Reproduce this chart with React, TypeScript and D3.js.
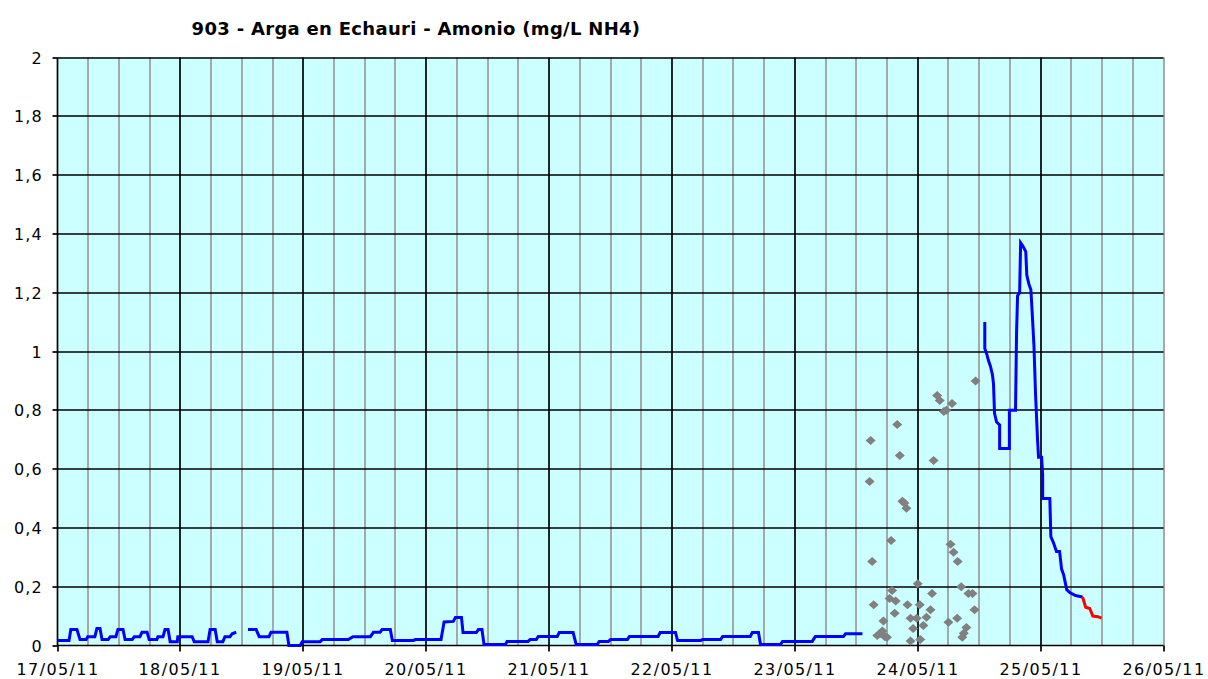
import React from "react";
import * as d3 from "d3";

const titleText = "903 - Arga en Echauri - Amonio (mg/L NH4)";
const dayLabels = ["17/05/11","18/05/11","19/05/11","20/05/11","21/05/11","22/05/11","23/05/11","24/05/11","25/05/11","26/05/11"];
const yTickValues = [0,0.2,0.4,0.6,0.8,1,1.2,1.4,1.6,1.8,2];
const yTickLabels = ["0","0,2","0,4","0,6","0,8","1","1,2","1,4","1,6","1,8","2"];

// hours since 17/05/11 00:00
const blue1Hours = [0,2.25,2.6,3.8,4.4,5.6,5.9,7.3,7.7,8.3,8.7,9.9,10.3,11.4,11.8,12.8,13.2,14.6,15.0,16.1,16.5,17.5,17.9,19.4,19.6,20.6,21.0,21.6,22.0,23.4,23.5,26.3,26.7,29.4,29.8,30.8,31.2,32.3,32.7,33.7,34.1,34.9];
const blue1Values = [0.017,0.017,0.054,0.054,0.02,0.02,0.03,0.03,0.058,0.058,0.02,0.02,0.03,0.03,0.054,0.054,0.02,0.02,0.03,0.03,0.045,0.045,0.02,0.02,0.03,0.03,0.054,0.054,0.013,0.013,0.03,0.03,0.013,0.013,0.054,0.054,0.013,0.013,0.03,0.03,0.04,0.045];

const blue2Hours = [37.2,38.8,39.4,41.3,41.7,44.8,45.2,47.4,47.8,51.3,51.7,56.8,57.7,61.1,61.7,63.0,63.4,65.0,65.4,69.5,69.9,74.9,75.5,77.3,77.7,78.9,79.2,81.8,82.2,82.9,83.3,87.5,87.8,91.9,92.3,93.5,93.9,97.6,98.0,100.7,101.3,105.4,105.8,107.6,108.0,111.3,111.7,117.3,117.7,120.7,121.1,125.6,126.0,129.5,129.9,135.3,135.7,136.9,137.3,141.2,141.6,147.4,148.0,153.5,153.9,157.2];
const blue2Values = [0.054,0.054,0.03,0.03,0.045,0.045,0,0,0.013,0.013,0.02,0.02,0.03,0.03,0.045,0.045,0.054,0.054,0.017,0.017,0.02,0.02,0.08,0.082,0.095,0.095,0.044,0.044,0.054,0.054,0.003,0.003,0.014,0.014,0.02,0.02,0.031,0.031,0.044,0.044,0.003,0.003,0.014,0.014,0.02,0.02,0.031,0.031,0.044,0.044,0.017,0.017,0.02,0.02,0.031,0.031,0.044,0.044,0.003,0.003,0.014,0.014,0.031,0.031,0.04,0.04];

const blue3Hours = [181.1,181.1,181.5,181.8,182.2,182.6,182.8,183.0,183.4,184.0,184.0,185.9,185.9,187.1,187.3,187.5,187.9,188.1,188.5,189.1,189.3,189.7,190.1,190.3,190.7,191.0,191.4,191.6,192.2,192.4,192.4,193.8,194.0,194.5,195.1,195.7,196.1,196.5,197.1,197.7,198.8,200.2];
const blue3Values = [1.10,1.01,0.99,0.97,0.95,0.92,0.89,0.79,0.76,0.75,0.67,0.67,0.80,0.80,1.06,1.19,1.20,1.37,1.36,1.34,1.26,1.23,1.21,1.15,1.02,0.86,0.70,0.64,0.64,0.58,0.50,0.50,0.37,0.35,0.32,0.32,0.26,0.24,0.19,0.18,0.17,0.165];

const redHours = [200.2,200.8,201.6,202.2,203.2,203.9];
const redValues = [0.165,0.13,0.126,0.10,0.098,0.093];

const scatterHours = [179.3,171.8,172.3,174.7,173.1,173.6,164.0,158.8,164.5,171.1,158.6,165.0,165.4,165.8,162.8,174.4,175.0,175.8,159.1,168.0,176.5,163.0,170.8,177.9,178.7,162.5,163.7,159.4,166.0,168.4,170.5,163.5,179.1,166.6,167.8,169.7,175.7,174.0,161.3,169.1,167.1,177.5,161.1,160.1,162.0,176.7,166.6,168.5,160.6,177.0,161.6];
const scatterValues = [0.90,0.85,0.833,0.823,0.796,0.80,0.752,0.697,0.646,0.629,0.558,0.491,0.485,0.467,0.357,0.344,0.317,0.286,0.286,0.21,0.20,0.187,0.177,0.177,0.177,0.16,0.151,0.139,0.139,0.139,0.122,0.11,0.122,0.093,0.093,0.096,0.093,0.079,0.083,0.068,0.058,0.061,0.049,0.034,0.028,0.028,0.015,0.02,0.04,0.042,0.03];

const zip = (a: number[], b: number[]) => a.map((h, i) => [h, b[i]] as [number, number]);

export default function App() {
  const W = 1208, H = 679;
  const left = 57.5, right = 1163.5, top = 57.5, bottom = 645.5;
  const x = d3.scaleLinear().domain([0, 216]).range([left, right]);
  const y = d3.scaleLinear().domain([0, 2]).range([bottom, top]);
  const line = d3.line<[number, number]>().x(d => x(d[0])).y(d => y(d[1]));
  const font = "'DejaVu Sans', Verdana, sans-serif";

  const vLines = d3.range(1, 37).map(i => i * 6);
  const hLines = yTickValues.slice(1);

  return (
    <svg width={W} height={H} style={{ position: "absolute", left: 0, top: 0, background: "#fff" }} fontFamily={font}>
      <rect x={left} y={top} width={right - left} height={bottom - top} fill="#CCFFFF" />
      {vLines.map(h => {
        const px = Math.round(x(h));
        const major = h % 24 === 0 && h !== 216;
        return <line key={"v" + h} x1={px} x2={px} y1={top} y2={bottom} stroke={major ? "#000" : "#9A9A9A"} strokeWidth={1.7} />;
      })}
      {hLines.map(v => {
        const py = Math.round(y(v));
        return <line key={"h" + v} x1={left} x2={right} y1={py} y2={py} stroke="#000" strokeWidth={1.7} />;
      })}
      {/* axes */}
      <line x1={left} x2={left} y1={top} y2={bottom} stroke="#000" strokeWidth={1.7} />
      <line x1={left} x2={right} y1={bottom} y2={bottom} stroke="#000" strokeWidth={1.7} />
      {yTickValues.map((v, i) => {
        const py = Math.round(y(v));
        return (
          <g key={"yt" + i}>
            <line x1={left - 5} x2={left} y1={py} y2={py} stroke="#000" strokeWidth={1.7} />
            <text x={43} y={py + 6} textAnchor="end" fontSize={16} letterSpacing={1.2} fill="#000">{yTickLabels[i]}</text>
          </g>
        );
      })}
      {dayLabels.map((lab, i) => {
        const px = Math.round(x(i * 24));
        return (
          <g key={"xt" + i}>
            <line x1={px} x2={px} y1={bottom} y2={bottom + 6} stroke="#000" strokeWidth={1.7} />
            <text x={px} y={675} textAnchor="middle" fontSize={16} letterSpacing={1.4} fill="#000">{lab}</text>
          </g>
        );
      })}
      {/* scatter */}
      {zip(scatterHours, scatterValues).map((d, i) => {
        const cx = x(d[0]), cy = y(d[1]);
        return <path key={"s" + i} d={`M${cx - 5},${cy}L${cx},${cy - 4.5}L${cx + 5},${cy}L${cx},${cy + 4.5}Z`} fill="#808080" />;
      })}
      {/* lines */}
      {[zip(blue1Hours, blue1Values), zip(blue2Hours, blue2Values), zip(blue3Hours, blue3Values)].map((seg, i) => (
        <path key={"b" + i} d={line(seg) || ""} fill="none" stroke="#0000FF" strokeWidth={3} strokeLinejoin="miter" />
      ))}
      <path d={line(zip(redHours, redValues)) || ""} fill="none" stroke="#FF0000" strokeWidth={3} />
      <text x={416} y={35} textAnchor="middle" fontSize={18} fontWeight="bold" letterSpacing={0.3} fill="#000">{titleText}</text>
    </svg>
  );
}
